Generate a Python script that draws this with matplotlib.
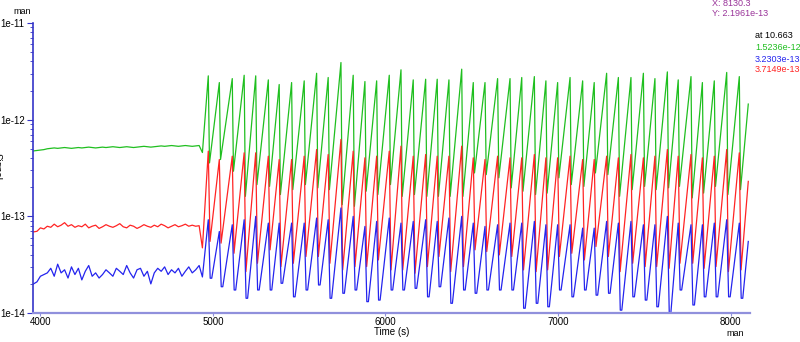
import numpy as np
import matplotlib
matplotlib.use("Agg")
import matplotlib.pyplot as plt
from matplotlib.ticker import LogLocator, NullFormatter

plt.rcParams["font.family"] = ["Liberation Sans", "DejaVu Sans"]

# ---- baseline (before stimulation), sampled every 20 s ----
pre_t = np.arange(3960, 4921, 20)
green_pre = [4.75e-13, 4.8e-13, 4.85e-13, 4.9e-13, 5.0e-13, 5.05e-13, 5.1e-13, 5.05e-13,
             5.1e-13, 5.15e-13, 5.1e-13, 5.05e-13, 5.1e-13, 5.15e-13, 5.1e-13, 5.15e-13,
             5.2e-13, 5.15e-13, 5.1e-13, 5.15e-13, 5.2e-13, 5.15e-13, 5.2e-13, 5.25e-13,
             5.2e-13, 5.15e-13, 5.2e-13, 5.25e-13, 5.2e-13, 5.15e-13, 5.2e-13, 5.25e-13,
             5.3e-13, 5.25e-13, 5.2e-13, 5.25e-13, 5.3e-13, 5.35e-13, 5.3e-13, 5.35e-13,
             5.4e-13, 5.35e-13, 5.3e-13, 5.35e-13, 5.4e-13, 5.35e-13, 5.3e-13, 5.35e-13, 5.4e-13]
red_pre = [6.9e-14, 7.0e-14, 7.6e-14, 7.4e-14, 7.9e-14, 7.7e-14, 8.3e-14, 7.8e-14, 8.1e-14,
           8.6e-14, 7.9e-14, 8.2e-14, 7.7e-14, 8.0e-14, 7.8e-14, 8.3e-14, 7.6e-14, 7.9e-14,
           8.1e-14, 7.5e-14, 7.8e-14, 8.2e-14, 7.9e-14, 7.7e-14, 8.0e-14, 8.4e-14, 7.8e-14,
           7.6e-14, 8.1e-14, 7.9e-14, 7.5e-14, 7.8e-14, 8.2e-14, 7.9e-14, 7.7e-14, 8.1e-14,
           7.8e-14, 8.3e-14, 8.0e-14, 7.6e-14, 7.9e-14, 8.2e-14, 7.8e-14, 8.0e-14, 8.3e-14,
           7.9e-14, 8.1e-14, 7.9e-14, 8.0e-14]
blue_pre = [2.0e-14, 2.1e-14, 2.4e-14, 2.5e-14, 2.6e-14, 2.9e-14, 2.4e-14, 3.2e-14, 2.6e-14,
            2.8e-14, 2.3e-14, 3.0e-14, 2.5e-14, 2.9e-14, 2.2e-14, 2.7e-14, 3.1e-14, 2.4e-14,
            2.6e-14, 2.3e-14, 2.5e-14, 2.8e-14, 2.6e-14, 2.4e-14, 2.9e-14, 2.7e-14, 2.5e-14,
            3.1e-14, 2.6e-14, 2.3e-14, 2.8e-14, 2.9e-14, 2.4e-14, 2.7e-14, 2.0e-14, 2.6e-14,
            2.9e-14, 2.7e-14, 3.0e-14, 2.5e-14, 2.8e-14, 2.6e-14, 2.9e-14, 2.4e-14, 2.7e-14,
            3.0e-14, 2.6e-14, 2.8e-14, 3.1e-14]

# dip right at the onset of oscillations
onset_t = 4939
onset_low = {"green": 4.57e-13, "red": 4.72e-14, "blue": 2.36e-14}

# ---- oscillation cycles: time of each peak and peak / following trough ----
peak_t = [4973, 5037, 5112, 5181, 5248, 5321, 5384, 5456, 5529, 5601, 5668, 5742,
          5813, 5881, 5949, 6022, 6090, 6161, 6233, 6300, 6368, 6442, 6509, 6577,
          6650, 6722, 6790, 6863, 6930, 6998, 7070, 7143, 7210, 7282, 7350, 7423,
          7495, 7562, 7634, 7697, 7771, 7837, 7906, 7978, 8051]

green_peak = [2.84e-12, 2.42e-12, 2.66e-12, 2.88e-12, 2.84e-12, 2.58e-12, 2.31e-12, 2.42e-12,
              2.52e-12, 3.02e-12, 2.73e-12, 3.90e-12, 2.88e-12, 2.48e-12, 2.52e-12, 2.88e-12,
              3.28e-12, 2.58e-12, 2.62e-12, 2.62e-12, 2.58e-12, 3.33e-12, 2.42e-12, 2.42e-12,
              2.66e-12, 2.66e-12, 2.73e-12, 2.79e-12, 2.52e-12, 2.42e-12, 2.73e-12, 2.52e-12,
              2.42e-12, 3.02e-12, 2.73e-12, 2.73e-12, 3.02e-12, 2.66e-12, 3.12e-12, 2.58e-12,
              2.79e-12, 2.42e-12, 2.52e-12, 3.08e-12, 2.79e-12]
green_trough = [3.57e-13, 3.87e-13, 2.93e-13, 1.61e-13, 2.13e-13, 2.04e-13, 1.68e-13, 1.89e-13,
                2.13e-13, 1.97e-13, 1.89e-13, 1.32e-13, 1.27e-13, 1.82e-13, 1.68e-13, 2.13e-13,
                1.61e-13, 1.68e-13, 1.61e-13, 1.61e-13, 1.61e-13, 1.61e-13, 2.81e-13, 2.70e-13,
                2.50e-13, 1.97e-13, 1.82e-13, 1.68e-13, 1.74e-13, 2.50e-13, 2.13e-13, 2.04e-13,
                2.81e-13, 2.70e-13, 1.61e-13, 1.89e-13, 2.04e-13, 1.89e-13, 1.97e-13, 2.04e-13,
                1.55e-13, 1.74e-13, 2.04e-13, 1.68e-13, 1.89e-13]

red_peak = [4.72e-13, 3.87e-13, 4.19e-13, 4.54e-13, 4.54e-13, 4.19e-13, 3.87e-13, 3.87e-13,
            4.19e-13, 4.91e-13, 4.36e-13, 6.24e-13, 4.72e-13, 4.03e-13, 4.19e-13, 4.72e-13,
            5.32e-13, 4.19e-13, 4.36e-13, 4.19e-13, 4.19e-13, 5.32e-13, 4.03e-13, 3.87e-13,
            4.19e-13, 4.03e-13, 4.03e-13, 4.36e-13, 4.03e-13, 4.03e-13, 4.19e-13, 3.87e-13,
            3.87e-13, 4.19e-13, 4.03e-13, 4.36e-13, 4.03e-13, 4.19e-13, 4.91e-13, 4.19e-13,
            4.36e-13, 4.03e-13, 4.19e-13, 4.91e-13, 4.54e-13]
red_trough = [5.5e-14, 5.28e-14, 4.15e-14, 2.68e-14, 3.27e-14, 4.50e-14, 3.02e-14, 3.27e-14,
              3.84e-14, 3.84e-14, 3.27e-14, 2.79e-14, 3.02e-14, 3.02e-14, 3.54e-14, 2.79e-14,
              2.79e-14, 2.58e-14, 3.02e-14, 3.84e-14, 2.68e-14, 3.02e-14, 4.50e-14, 4.32e-14,
              3.99e-14, 3.84e-14, 2.79e-14, 2.68e-14, 2.79e-14, 3.84e-14, 4.15e-14, 3.54e-14,
              4.87e-14, 3.84e-14, 2.68e-14, 3.27e-14, 3.02e-14, 3.02e-14, 2.90e-14, 3.27e-14,
              3.27e-14, 2.90e-14, 3.02e-14, 2.68e-14, 2.79e-14]

blue_peak = [9.22e-14, 6.97e-14, 8.18e-14, 9.22e-14, 9.99e-14, 8.51e-14, 8.51e-14, 8.51e-14,
             8.51e-14, 9.60e-14, 9.22e-14, 1.22e-13, 9.99e-14, 7.86e-14, 8.86e-14, 9.60e-14,
             8.51e-14, 8.86e-14, 9.22e-14, 8.86e-14, 9.60e-14, 9.99e-14, 8.51e-14, 7.86e-14,
             8.18e-14, 8.51e-14, 8.51e-14, 8.86e-14, 8.18e-14, 8.18e-14, 8.18e-14, 7.55e-14,
             7.55e-14, 8.86e-14, 8.51e-14, 8.86e-14, 8.18e-14, 8.18e-14, 9.99e-14, 8.51e-14,
             8.18e-14, 8.18e-14, 8.51e-14, 9.22e-14, 8.51e-14]
blue_trough = [2.29e-14, 1.87e-14, 1.73e-14, 1.42e-14, 1.73e-14, 1.73e-14, 2.03e-14, 1.47e-14,
               1.73e-14, 1.95e-14, 1.42e-14, 1.60e-14, 1.73e-14, 1.31e-14, 1.36e-14, 1.73e-14,
               1.73e-14, 1.80e-14, 1.47e-14, 1.87e-14, 1.26e-14, 1.73e-14, 1.60e-14, 1.73e-14,
               1.73e-14, 1.73e-14, 1.12e-14, 1.26e-14, 1.16e-14, 1.73e-14, 1.47e-14, 1.73e-14,
               1.53e-14, 1.60e-14, 1.07e-14, 1.47e-14, 1.36e-14, 1.16e-14, 0.99e-14, 1.73e-14,
               1.21e-14, 1.47e-14, 1.47e-14, 1.47e-14, 1.42e-14]

# last recorded sample
end_t = 8103
end_val = {"green": 1.45e-12, "red": 2.30e-13, "blue": 5.5e-14}

COLORS = {"green": "#1fbf1f", "red": "#ff2424", "blue": "#2424ee"}


def trace(pre, low, peaks, troughs, last, drop_dt, hold_dt=None):
    """Assemble a trace: baseline, onset dip, then fast drop after every peak."""
    t = list(pre_t) + [onset_t]
    v = list(pre) + [low]
    for tp, pk, tr in zip(peak_t, peaks, troughs):
        t += [tp, tp + drop_dt]
        v += [pk, tr]
        if hold_dt is not None:
            t.append(tp + hold_dt)
            v.append(tr)
    t.append(end_t)
    v.append(last)
    return np.array(t), np.array(v)


fig = plt.figure(figsize=(8, 3.42), dpi=100)
ax = fig.add_axes([33 / 800, 1 - 313 / 342, (750 - 33) / 800, (313 - 23) / 342])

tg, vg = trace(green_pre, onset_low["green"], green_peak, green_trough, end_val["green"], 7)
tr_, vr = trace(red_pre, onset_low["red"], red_peak, red_trough, end_val["red"], 10)
tb, vb = trace(blue_pre, onset_low["blue"], blue_peak, blue_trough, end_val["blue"], 11, 20)

ax.plot(tg, vg, color=COLORS["green"], lw=0.9)
ax.plot(tr_, vr, color=COLORS["red"], lw=0.9)
ax.plot(tb, vb, color=COLORS["blue"], lw=0.9)

ax.set_yscale("log")
ax.set_ylim(1e-14, 1e-11)
ax.set_xlim(3957, 8113)

ax.set_yticks([1e-14, 1e-13, 1e-12, 1e-11])
ax.set_yticklabels(["1e-14", "1e-13", "1e-12", "1e-11"])
ax.yaxis.set_minor_locator(LogLocator(base=10, subs=np.arange(2, 10)))
ax.yaxis.set_minor_formatter(NullFormatter())
ax.set_xticks([4000, 5000, 6000, 7000, 8000])
ax.set_xticklabels(["4000", "5000", "6000", "7000", "8000"])

for s in ("top", "right"):
    ax.spines[s].set_visible(False)
ax.spines["left"].set_color("#3535c8")
ax.spines["left"].set_linewidth(1.2)
ax.spines["bottom"].set_color("#9090dc")
ax.spines["bottom"].set_linewidth(1.6)

ax.tick_params(axis="y", which="major", length=4, width=0.8, color="#3535c8",
               labelsize=7, pad=2)
ax.tick_params(axis="y", which="minor", length=2, width=0.6, color="#3535c8")
ax.tick_params(axis="x", which="major", length=2, width=0.8, color="#9090dc",
               labelsize=7, pad=1)

ax.set_xlabel("Time (s)", fontsize=7, labelpad=0)

# axis unit tags and signal label
fig.text(22 / 800, 1 - 12 / 342, "man", fontsize=6.5, ha="center", va="center")
fig.text(735 / 800, 1 - 334 / 342, "man", fontsize=6.5, ha="center", va="center")
fig.text(-3 / 800, 1 - 166 / 342, "Signal", fontsize=7, rotation=270,
         ha="center", va="center")

# cursor read-out
purple = "#993399"
fig.text(712 / 800, 1 - 4 / 342, "X: 8130.3", fontsize=6.5, color=purple, va="center")
fig.text(712 / 800, 1 - 14 / 342, "Y: 2.1961e-13", fontsize=6.5, color=purple, va="center")
fig.text(755 / 800, 1 - 35 / 342, "at 10.663", fontsize=6.5, color="black", va="center")
fig.text(755 / 800, 1 - 48 / 342, "1.5236e-12", fontsize=6.5, color=COLORS["green"], va="center")
fig.text(755 / 800, 1 - 59 / 342, "3.2303e-13", fontsize=6.5, color=COLORS["blue"], va="center")
fig.text(755 / 800, 1 - 70 / 342, "3.7149e-13", fontsize=6.5, color=COLORS["red"], va="center")

fig.savefig("out.png", dpi=100)
